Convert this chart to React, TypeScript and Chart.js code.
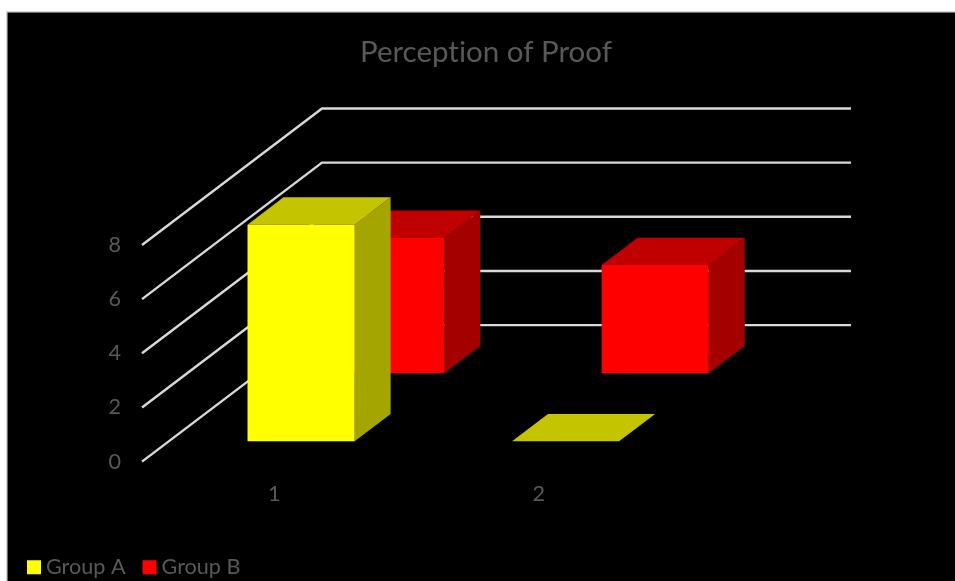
import React, { useEffect, useRef } from "react";
import { Chart, registerables } from "chart.js";

Chart.register(...registerables);

const categories = ["1", "2"];
const groupA = [8, 0];
const groupB = [5, 4];
const seriesNames = ["Group A", "Group B"];
const frontColors = ["#ffff00", "#ff0000"];
const topColors = ["#c4c400", "#c00000"];
const sideColors = ["#a5a500", "#a50000"];
const chartTitle = "Perception of Proof";

// Oblique projection: how far the back wall sits from the front plane.
const WALL_DX = 180;
const WALL_DY = 136.5;
// Position of each series along the depth axis (0 = front, 1 = back wall).
const SERIES_DEPTH = [0.149, 0.647];
const BAR_DEPTH = 0.2;

const GRID_COLOR = "#d9d9d9";
const TEXT_COLOR = "#595959";
const FONT_FAMILY = "Lato, 'Noto Sans', sans-serif";
const LABEL_SIZE = 21.6;

const frameBackground = {
  id: "frameBackground",
  beforeDraw(chart: any) {
    const { ctx, width, height } = chart;
    (ctx as any).textRendering = "optimizeSpeed";
    ctx.save();
    ctx.fillStyle = "#ffffff";
    ctx.fillRect(0, 0, width, height);
    ctx.fillStyle = "#d9d9d9";
    ctx.fillRect(6, 11, width - 6, height - 11);
    ctx.fillStyle = "#000000";
    ctx.fillRect(7.5, 12.5, width - 7.5, height - 12.5);
    ctx.restore();
  },
};

function polygon(ctx: CanvasRenderingContext2D, pts: number[][], color: string) {
  ctx.beginPath();
  pts.forEach(([x, y], i) => (i === 0 ? ctx.moveTo(x, y) : ctx.lineTo(x, y)));
  ctx.closePath();
  ctx.fillStyle = color;
  ctx.fill();
}

const perspectiveBars = {
  id: "perspectiveBars",
  beforeDatasetsDraw(chart: any) {
    const { ctx, chartArea, scales } = chart;
    const y = scales.y;

    // Walls: each gridline runs back along the side wall, then across the back wall.
    ctx.save();
    ctx.strokeStyle = GRID_COLOR;
    ctx.lineWidth = 2.4;
    ctx.lineCap = "butt";
    y.ticks.forEach((tick: any) => {
      const py = y.getPixelForValue(tick.value);
      ctx.beginPath();
      ctx.moveTo(chartArea.left, py);
      ctx.lineTo(chartArea.left + WALL_DX, py - WALL_DY);
      ctx.lineTo(chartArea.right + WALL_DX, py - WALL_DY);
      ctx.stroke();
    });

    // Deepest series first so nearer bars cover it.
    for (let d = chart.data.datasets.length - 1; d >= 0; d--) {
      const meta = chart.getDatasetMeta(d);
      const near = SERIES_DEPTH[d];
      const sx = near * WALL_DX;
      const sy = near * WALL_DY;
      const bx = BAR_DEPTH * WALL_DX;
      const by = BAR_DEPTH * WALL_DY;
      meta.data.forEach((bar: any) => {
        const left = bar.x - bar.width / 2 + sx;
        const right = bar.x + bar.width / 2 + sx;
        const top = bar.y - sy;
        const bottom = bar.base - sy;
        polygon(ctx, [[right, top], [right + bx, top - by], [right + bx, bottom - by], [right, bottom]], sideColors[d]);
        polygon(ctx, [[left, top], [left + bx, top - by], [right + bx, top - by], [right, top]], topColors[d]);
        if (bottom > top) {
          polygon(ctx, [[left, top], [right, top], [right, bottom], [left, bottom]], frontColors[d]);
        }
      });
    }
    ctx.restore();
    return false;
  },
};

export default function App() {
  const ref = useRef<HTMLCanvasElement | null>(null);

  useEffect(() => {
    if (!ref.current) return;
    const chart = new Chart(ref.current, {
      type: "bar",
      data: {
        labels: categories,
        datasets: [
          { label: seriesNames[0], data: groupA, backgroundColor: frontColors[0], grouped: false, barPercentage: 0.405, categoryPercentage: 1 },
          { label: seriesNames[1], data: groupB, backgroundColor: frontColors[1], grouped: false, barPercentage: 0.405, categoryPercentage: 1 },
        ],
      } as any,
      options: {
        responsive: false,
        animation: false,
        layout: { padding: { left: 10, right: -7, top: 0, bottom: -7 } },
        scales: {
          x: {
            grid: { display: false },
            border: { display: false },
            ticks: { color: TEXT_COLOR, font: { family: FONT_FAMILY, size: LABEL_SIZE }, padding: 11, maxRotation: 0 },
            afterFit: (s: any) => { s.height = 72; },
          },
          y: {
            min: 0,
            max: 8,
            grid: { display: false, drawTicks: false },
            border: { display: false },
            ticks: { stepSize: 2, color: TEXT_COLOR, font: { family: FONT_FAMILY, size: LABEL_SIZE }, padding: 21 },
            afterFit: (s: any) => { s.width = 132; },
          },
          // Reserves the room the receding walls need to the right of the front plane.
          depth: {
            type: "linear",
            position: "right",
            grid: { display: false },
            border: { display: false },
            ticks: { display: false },
            afterFit: (s: any) => { s.width = 291; },
          },
        },
        plugins: {
          title: {
            display: true,
            text: chartTitle,
            color: TEXT_COLOR,
            font: { family: FONT_FAMILY, size: 29.5, weight: "normal" },
            padding: { top: 34.3, bottom: 175.3 },
          },
          legend: {
            position: "bottom",
            align: "start",
            labels: {
              color: TEXT_COLOR,
              font: { family: FONT_FAMILY, size: LABEL_SIZE },
              boxWidth: 2.4,
              boxHeight: 2.4,
              padding: 22.8,
              generateLabels: (c: any) =>
                seriesNames.map((text, i) => ({
                  text,
                  fillStyle: frontColors[i],
                  strokeStyle: frontColors[i],
                  lineWidth: 11.6,
                  fontColor: TEXT_COLOR,
                  datasetIndex: i,
                  hidden: !c.isDatasetVisible(i),
                })),
            },
          },
          tooltip: { enabled: false },
        },
      } as any,
      plugins: [frameBackground, perspectiveBars],
    });
    return () => chart.destroy();
  }, []);

  return (
    <div style={{ position: "absolute", left: 0, top: 0, width: 955, height: 581, overflow: "hidden" }}>
      <canvas ref={ref} width={955} height={581} style={{ display: "block" }} />
    </div>
  );
}
